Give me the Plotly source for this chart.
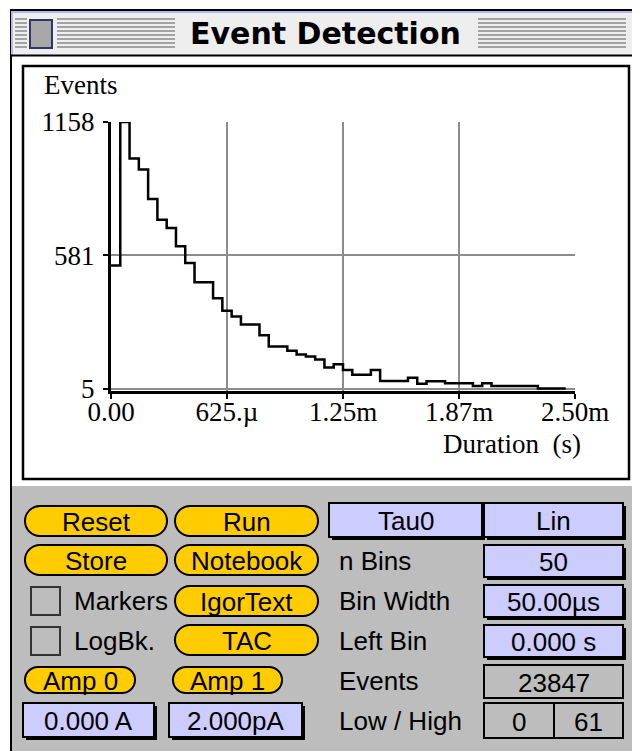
import plotly.graph_objects as go

# histogram settings shown in the panel
n_bins = 50
bin_width = 50e-6  # s
left_bin = 0.0

# counts per bin
counts = [537, 1158, 1000, 952, 825, 735, 699, 620, 548, 465,
          465, 396, 341, 317, 282, 282, 235, 187, 187, 168,
          152, 143, 131, 96, 110, 85, 65, 65, 85, 38,
          38, 38, 51, 26, 36, 36, 28, 28, 28, 16,
          28, 16, 16, 16, 16, 16, 5, 5, 5, 5]
bin_starts = [left_bin + i * bin_width for i in range(n_bins)]

x_tickvals = [0.0, 0.000625, 0.00125, 0.001875, 0.0025]
x_ticktext = ["0.00", "625.µ", "1.25m", "1.87m", "2.50m"]
y_tickvals = [5, 581, 1158]
y_ticktext = ["5", "581", "1158"]

W, H = 640, 751
OFF = 8  # the page body margin pushes the figure 8px right/down
PANEL = "#bdbdbd"
YELLOW = "#ffcc00"
LAVENDER = "#ccccff"
SERIF = "Liberation Serif"
SANS = "Liberation Sans"


def X(x):
    return (x - OFF) / W


def Y(y):
    return 1 - (y - OFF) / H


shapes = []
annotations = []


def rect(x0, y0, x1, y1, fill, line_color="rgba(0,0,0,0)", line_width=0):
    shapes.append(dict(type="rect", xref="paper", yref="paper",
                       x0=X(x0), x1=X(x1), y0=Y(y1), y1=Y(y0),
                       fillcolor=fill, line=dict(color=line_color, width=line_width),
                       layer="below"))


def line(x0, y0, x1, y1, color, width):
    shapes.append(dict(type="line", xref="paper", yref="paper",
                       x0=X(x0), x1=X(x1), y0=Y(y0), y1=Y(y1),
                       line=dict(color=color, width=width), layer="below"))


def pill(x0, y0, x1, y1):
    r = (y1 - y0) / 2
    k = 0.5523 * r
    yc = (y0 + y1) / 2
    pts = [
        ("M", [(x0 + r, y0)]),
        ("L", [(x1 - r, y0)]),
        ("C", [(x1 - r + k, y0), (x1, yc - k), (x1, yc)]),
        ("C", [(x1, yc + k), (x1 - r + k, y1), (x1 - r, y1)]),
        ("L", [(x0 + r, y1)]),
        ("C", [(x0 + r - k, y1), (x0, yc + k), (x0, yc)]),
        ("C", [(x0, yc - k), (x0 + r - k, y0), (x0 + r, y0)]),
    ]
    path = " ".join(cmd + " ".join(f"{X(a):.5f},{Y(b):.5f}" for a, b in p) for cmd, p in pts) + " Z"
    shapes.append(dict(type="path", xref="paper", yref="paper", path=path,
                       fillcolor=YELLOW, line=dict(color="black", width=2), layer="below"))


def text(x, y, s, size=26, family=SANS, anchor="center"):
    annotations.append(dict(x=X(x), y=Y(y), xref="paper", yref="paper", text=s,
                            showarrow=False, xanchor=anchor, yanchor="middle",
                            font=dict(family=family, size=size, color="black")))


def button(x0, y0, x1, y1, label):
    pill(x0, y0, x1, y1)
    text((x0 + x1) / 2, (y0 + y1) / 2 + 1, label)


def field(x0, y0, x1, y1, label, fill=LAVENDER, shadow=True):
    if shadow:
        rect(x0 + 3, y0 + 3, x1 + 3, y1 + 3, "black")
    rect(x0, y0, x1, y1, fill, "black", 2)
    text((x0 + x1) / 2, (y0 + y1) / 2 + 1, label)


def checkbox(x0, y0, label):
    rect(x0, y0, x0 + 29, y0 + 28, PANEL, "#333333", 2)
    text(x0 + 41, y0 + 14, label, anchor="left")


# window frame
rect(11, 10, 642, 760, "white", "black", 2)
# title bar
rect(12, 11, 639, 55, "#eeeeee")
line(12, 12, 639, 12, "#b8b8e8", 2)
line(12, 11, 12, 55, "#b8b8e8", 2)
line(11, 55.5, 642, 55.5, "black", 2)
for sy in range(19, 50, 4):
    line(15, sy, 27, sy, "#8a8a8a", 1.5)
    line(57, sy, 175, sy, "#8a8a8a", 1.5)
    line(478, sy, 626, sy, "#8a8a8a", 1.5)
rect(30, 20, 52, 48, "#a8a8a8", "#333366", 2)
text(325, 34, "<b>Event Detection</b>", size=30, family="DejaVu Sans")

# graph box
rect(23, 66, 629, 479, "white", "black", 2.5)
# control panel
rect(12, 486, 648, 760, PANEL)

button(25, 506, 167, 536, "Reset")
button(175, 506, 318, 536, "Run")
button(25, 545, 167, 575, "Store")
button(175, 545, 318, 575, "Notebook")
checkbox(31, 587, "Markers")
button(175, 586, 318, 616, "IgorText")
checkbox(31, 627, "LogBk.")
button(175, 625, 318, 655, "TAC")
button(25, 667, 135, 693, "Amp 0")
button(173, 667, 282, 693, "Amp 1")
field(23, 703, 154, 737, "0.000 A")
field(169, 703, 302, 737, "2.000pA")

field(329, 503, 482, 537, "Tau0")
field(484, 503, 623, 537, "Lin")
text(337, 561, "n Bins", anchor="left")
field(484, 545, 623, 577, "50")
text(337, 601, "Bin Width", anchor="left")
field(484, 585, 623, 617, "50.00µs")
text(337, 641, "Left Bin", anchor="left")
field(484, 625, 623, 657, "0.000 s")
text(337, 681, "Events", anchor="left")
field(484, 665, 623, 698, "23847", fill=PANEL, shadow=False)
text(337, 721, "Low / High", anchor="left")
field(484, 703, 554, 738, "0", fill=PANEL, shadow=False)
field(554, 703, 623, 738, "61", fill=PANEL, shadow=False)

# axis titles
text(42, 85, "Events", size=27, family=SERIF, anchor="left")
text(583, 444, "Duration\u00a0\u00a0(s)", size=27, family=SERIF, anchor="right")

fig = go.Figure()
fig.add_trace(go.Scatter(x=bin_starts, y=counts, mode="lines",
                         line=dict(shape="hv", color="black", width=2.5),
                         hoverinfo="skip", showlegend=False))

tick_font = dict(family=SERIF, size=27, color="black")
fig.update_layout(
    width=W, height=H, autosize=False,
    margin=dict(l=0, r=0, t=0, b=0, pad=0, autoexpand=False),
    paper_bgcolor="white", plot_bgcolor="rgba(0,0,0,0)",
    shapes=shapes, annotations=annotations, showlegend=False,
    xaxis=dict(domain=[X(111), X(575)], range=[0, 0.0025], automargin=False,
               tickvals=x_tickvals, ticktext=x_ticktext, tickfont=tick_font,
               showgrid=True, gridcolor="#8c8c8c", gridwidth=2, zeroline=False,
               showline=True, linecolor="black", linewidth=3,
               ticks="outside", ticklen=5, tickwidth=2, tickcolor="black",
               ticklabelstandoff=-10),
    yaxis=dict(domain=[Y(391), Y(122)], range=[-5.8, 1158], automargin=False,
               tickvals=y_tickvals, ticktext=y_ticktext, tickfont=tick_font,
               showgrid=True, gridcolor="#8c8c8c", gridwidth=2, zeroline=False,
               showline=True, linecolor="black", linewidth=3,
               ticks="outside", ticklen=5, tickwidth=2, tickcolor="black",
               ticklabelstandoff=3),
)

fig.write_html("out.html")
